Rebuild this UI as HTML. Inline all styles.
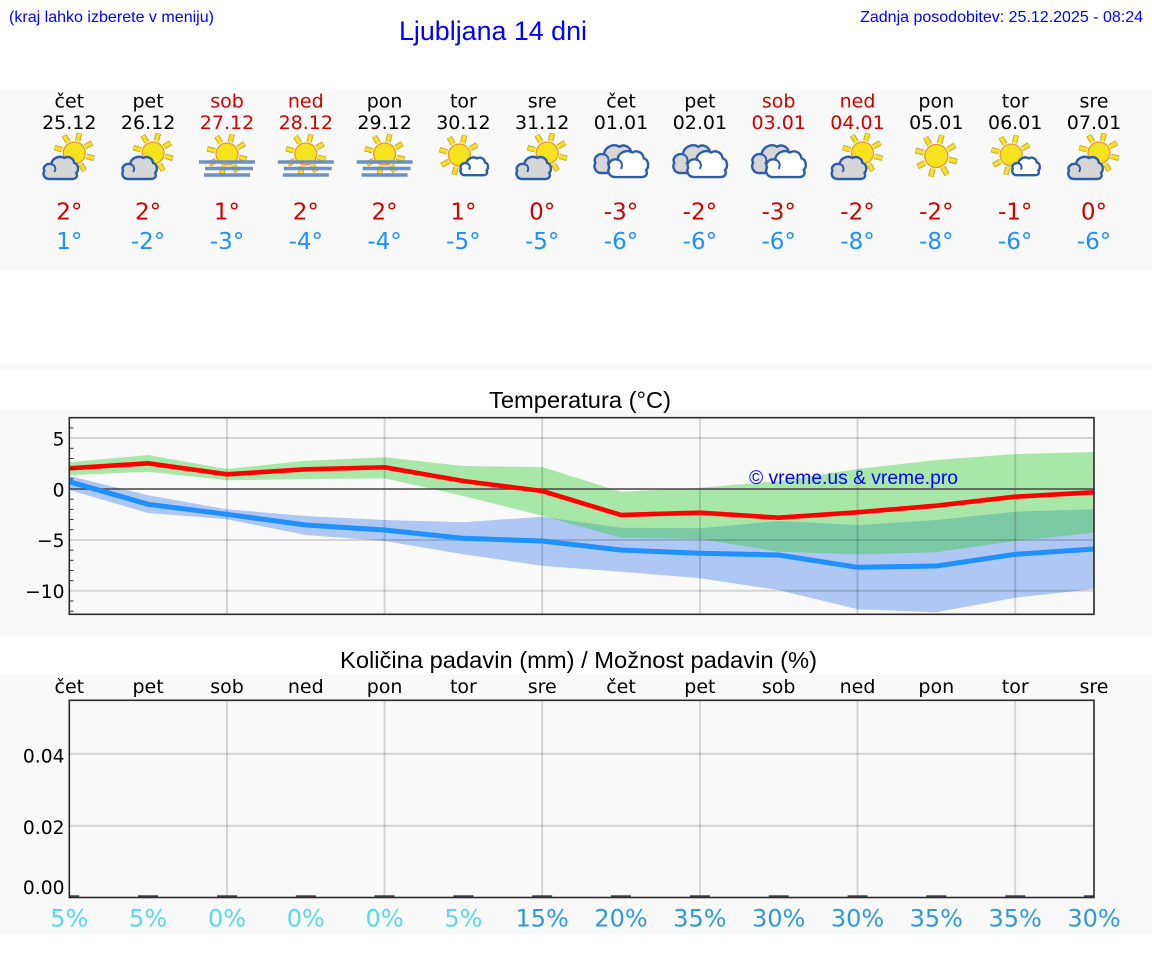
<!DOCTYPE html>
<html><head><meta charset="utf-8"><style>html,body{margin:0;padding:0;background:#fff;}svg{display:block}</style></head>
<body>
<svg xmlns="http://www.w3.org/2000/svg" width="1152" height="975" viewBox="0 0 1152 975">
<defs>
  <g id="sun">
    <g stroke="#c9a43a" stroke-width="5.5">
      <line x1="12.07" y1="3.24" x2="19.8" y2="5.3"/><line x1="6.25" y1="10.83" x2="10.25" y2="17.75"/>
      <line x1="-3.24" y1="12.07" x2="-5.3" y2="19.8"/><line x1="-10.83" y1="6.25" x2="-17.75" y2="10.25"/>
      <line x1="-12.07" y1="-3.24" x2="-19.8" y2="-5.3"/><line x1="-6.25" y1="-10.83" x2="-10.25" y2="-17.75"/>
      <line x1="3.24" y1="-12.07" x2="5.3" y2="-19.8"/><line x1="10.83" y1="-6.25" x2="17.75" y2="-10.25"/>
    </g>
    <g stroke="#f5e31f" stroke-width="3.6">
      <line x1="12.07" y1="3.24" x2="19.3" y2="5.17"/><line x1="6.25" y1="10.83" x2="10" y2="17.3"/>
      <line x1="-3.24" y1="12.07" x2="-5.17" y2="19.3"/><line x1="-10.83" y1="6.25" x2="-17.3" y2="10"/>
      <line x1="-12.07" y1="-3.24" x2="-19.3" y2="-5.17"/><line x1="-6.25" y1="-10.83" x2="-10" y2="-17.3"/>
      <line x1="3.24" y1="-12.07" x2="5.17" y2="-19.3"/><line x1="10.83" y1="-6.25" x2="17.3" y2="-10"/>
    </g>
    <circle cx="0" cy="0" r="11" fill="#f4e31e" stroke="#eb9a2a" stroke-width="1.3"/>
  </g>
  <g id="cg">
    <path d="M7,24 C2,24 0,19 2,16 C0,12 4,8 9,9 C10,3 17,0 22,3 C25,1 31,2 32,8 C36,9 37,15 34,18 C36,22 33,24 30,24 Z" fill="#d6d6d6" stroke="#2c5caa" stroke-width="2.4" vector-effect="non-scaling-stroke"/>
    <path d="M9,9 C13,10 14,14 12,17" fill="none" stroke="#2c5caa" stroke-width="2" vector-effect="non-scaling-stroke"/>
  </g>
  <g id="cw">
    <path d="M7,24 C2,24 0,19 2,16 C0,12 4,8 9,9 C10,3 17,0 22,3 C25,1 31,2 32,8 C36,9 37,15 34,18 C36,22 33,24 30,24 Z" fill="#ffffff" stroke="#2c5caa" stroke-width="2.4" vector-effect="non-scaling-stroke"/>
    <path d="M9,9 C13,10 14,14 12,17" fill="none" stroke="#2c5caa" stroke-width="2" vector-effect="non-scaling-stroke"/>
  </g>
  <g id="pc">
    <use href="#sun" transform="translate(5,153)"/>
    <use href="#cg" transform="translate(-27,155) scale(1.0,1.0)"/>
  </g>
  <g id="sw">
    <use href="#sun" transform="translate(-4,155)"/>
    <use href="#cw" transform="translate(-4,156) scale(0.8,0.8)"/>
  </g>
  <g id="cl">
    <use href="#cg" transform="translate(-28,143) scale(1.2,1.25)"/>
    <use href="#cw" transform="translate(-14,149) scale(1.15,1.17)"/>
  </g>
  <g id="fg">
    <use href="#sun" transform="translate(0,154)"/>
    <g stroke="#6d8fc6" stroke-width="3.5">
      <line x1="-28" y1="162" x2="28" y2="162"/>
      <line x1="-22" y1="168.5" x2="26" y2="168.5"/>
      <line x1="-23" y1="175" x2="23" y2="175"/>
    </g>
  </g>
  <g id="so">
    <use href="#sun" transform="translate(0,156) scale(1.05)"/>
  </g>
  <clipPath id="tclip"><rect x="69.3" y="417.7" width="1024.7" height="196.6"/></clipPath>
  <clipPath id="pclip"><rect x="69.3" y="700.3" width="1024.7" height="197.2"/></clipPath>
</defs>

<!-- header text -->
<g font-family="'Liberation Sans', Arial, sans-serif" fill="#0000ff">
  <text x="9" y="22" font-size="16" textLength="205" lengthAdjust="spacingAndGlyphs">(kraj lahko izberete v meniju)</text>
  <text x="1143" y="22" font-size="16" text-anchor="end">Zadnja posodobitev: 25.12.2025 - 08:24</text>
  <text x="399" y="40" font-size="26.7" textLength="188" lengthAdjust="spacingAndGlyphs">Ljubljana 14 dni</text>
</g>

<!-- panels -->
<rect x="0" y="90" width="1152" height="180" fill="#f9f9f9"/>
<rect x="0" y="365" width="1152" height="5" fill="#f9f9f9"/>
<rect x="0" y="410" width="1152" height="225" fill="#f9f9f9"/>
<rect x="0" y="675" width="1152" height="259" fill="#f9f9f9"/>

<!-- header days -->
<g font-family="'DejaVu Sans', sans-serif" font-size="19" text-anchor="middle" fill="#000">
  <text x="69.3" y="107.3">čet</text><text x="148.1" y="107.3">pet</text><text x="227" y="107.3" fill="#cc0000">sob</text><text x="305.8" y="107.3" fill="#cc0000">ned</text><text x="384.6" y="107.3">pon</text><text x="463.4" y="107.3">tor</text><text x="542.2" y="107.3">sre</text><text x="621" y="107.3">čet</text><text x="699.9" y="107.3">pet</text><text x="778.7" y="107.3" fill="#cc0000">sob</text><text x="857.5" y="107.3" fill="#cc0000">ned</text><text x="936.3" y="107.3">pon</text><text x="1015.2" y="107.3">tor</text><text x="1094" y="107.3">sre</text>
  <text x="69.3" y="129">25.12</text><text x="148.1" y="129">26.12</text><text x="227" y="129" fill="#cc0000">27.12</text><text x="305.8" y="129" fill="#cc0000">28.12</text><text x="384.6" y="129">29.12</text><text x="463.4" y="129">30.12</text><text x="542.2" y="129">31.12</text><text x="621" y="129">01.01</text><text x="699.9" y="129">02.01</text><text x="778.7" y="129" fill="#cc0000">03.01</text><text x="857.5" y="129" fill="#cc0000">04.01</text><text x="936.3" y="129">05.01</text><text x="1015.2" y="129">06.01</text><text x="1094" y="129">07.01</text>
</g>
<g font-family="'DejaVu Sans', sans-serif" font-size="23" text-anchor="middle" fill="#cc0000">
  <text x="69.3" y="219.3">2°</text><text x="148.1" y="219.3">2°</text><text x="227" y="219.3">1°</text><text x="305.8" y="219.3">2°</text><text x="384.6" y="219.3">2°</text><text x="463.4" y="219.3">1°</text><text x="542.2" y="219.3">0°</text><text x="621" y="219.3">-3°</text><text x="699.9" y="219.3">-2°</text><text x="778.7" y="219.3">-3°</text><text x="857.5" y="219.3">-2°</text><text x="936.3" y="219.3">-2°</text><text x="1015.2" y="219.3">-1°</text><text x="1094" y="219.3">0°</text>
</g>
<g font-family="'DejaVu Sans', sans-serif" font-size="23" text-anchor="middle" fill="#1e90ff">
  <text x="69.3" y="249">1°</text><text x="148.1" y="249">-2°</text><text x="227" y="249">-3°</text><text x="305.8" y="249">-4°</text><text x="384.6" y="249">-4°</text><text x="463.4" y="249">-5°</text><text x="542.2" y="249">-5°</text><text x="621" y="249">-6°</text><text x="699.9" y="249">-6°</text><text x="778.7" y="249">-6°</text><text x="857.5" y="249">-8°</text><text x="936.3" y="249">-8°</text><text x="1015.2" y="249">-6°</text><text x="1094" y="249">-6°</text>
</g>

<!-- icons -->
<use href="#pc" x="69.3"/>
<use href="#pc" x="148.1"/>
<use href="#fg" x="227"/>
<use href="#fg" x="305.8"/>
<use href="#fg" x="384.6"/>
<use href="#sw" x="463.4"/>
<use href="#pc" x="542.2"/>
<use href="#cl" x="621"/>
<use href="#cl" x="699.9"/>
<use href="#cl" x="778.7"/>
<use href="#pc" x="857.5"/>
<use href="#so" x="936.3"/>
<use href="#sw" x="1015.2"/>
<use href="#pc" x="1094"/>

<!-- Temperature chart -->
<text x="580" y="408" font-family="'Liberation Sans', Arial, sans-serif" font-size="23" text-anchor="middle" textLength="182" lengthAdjust="spacingAndGlyphs" fill="#000">Temperatura (°C)</text>
<g clip-path="url(#tclip)">
  <polygon fill="rgb(100,149,237)" fill-opacity="0.5" points="69.3,476 148.1,495.3 227,509.3 305.8,516 384.6,520 463.4,522.3 542.2,516.7 621,527.7 699.9,528.3 778.7,521 857.5,525 936.3,520 1015.2,511.7 1094,509.3 1094,589 1015.2,597.7 936.3,612.3 857.5,609.3 778.7,590 699.9,578.3 621,571.7 542.2,565.7 463.4,554.3 384.6,541 305.8,535 227,519.3 148.1,513 69.3,490"/>
  <polygon fill="rgb(50,205,50)" fill-opacity="0.4" points="69.3,462.3 148.1,455 227,469 305.8,460.7 384.6,457.3 463.4,466 542.2,467 621,491.7 699.9,487.7 778.7,481 857.5,469 936.3,460 1015.2,454 1094,452 1094,532.7 1015.2,541 936.3,552.3 857.5,554.3 778.7,551.7 699.9,539 621,537.7 542.2,515.7 463.4,496 384.6,478.3 305.8,479 227,480.3 148.1,471.7 69.3,475.3"/>
  <g stroke="#000" stroke-opacity="0.15" stroke-width="2">
    <line x1="69" y1="438" x2="1095" y2="438"/>
    <line x1="69" y1="540" x2="1095" y2="540"/>
    <line x1="69" y1="590.7" x2="1095" y2="590.7"/>
    <line x1="227" y1="417" x2="227" y2="615"/>
    <line x1="384.6" y1="417" x2="384.6" y2="615"/>
    <line x1="542.2" y1="417" x2="542.2" y2="615"/>
    <line x1="699.9" y1="417" x2="699.9" y2="615"/>
    <line x1="857.5" y1="417" x2="857.5" y2="615"/>
    <line x1="1015.2" y1="417" x2="1015.2" y2="615"/>
  </g>
  <line x1="69" y1="489" x2="1095" y2="489" stroke="#444" stroke-width="1.5"/>
  <polyline fill="none" stroke="#1e90ff" stroke-width="5" stroke-linejoin="round" points="69.3,481.7 148.1,504.3 227,514.3 305.8,525 384.6,530 463.4,538.3 542.2,541 621,550 699.9,553.3 778.7,555 857.5,567.3 936.3,566 1015.2,554.3 1094,549"/>
  <polyline fill="none" stroke="#ff0000" stroke-width="4.6" stroke-linejoin="round" points="69.3,468.3 148.1,463.3 227,474.3 305.8,469.3 384.6,467.3 463.4,481 542.2,491 621,515 699.9,512.7 778.7,517.7 857.5,512.3 936.3,505.7 1015.2,496.7 1094,492.3"/>
  <text x="749" y="484" font-family="'Liberation Sans', Arial, sans-serif" font-size="19" fill="#0000ff" textLength="209" lengthAdjust="spacingAndGlyphs">© vreme.us &amp; vreme.pro</text>
</g>
<g stroke="#333" stroke-width="1">
  <line x1="69.3" y1="427.9" x2="73.5" y2="427.9"/><line x1="69.3" y1="448.3" x2="73.5" y2="448.3"/><line x1="69.3" y1="458.5" x2="73.5" y2="458.5"/><line x1="69.3" y1="468.6" x2="73.5" y2="468.6"/><line x1="69.3" y1="478.8" x2="73.5" y2="478.8"/>
  <line x1="69.3" y1="499.2" x2="73.5" y2="499.2"/><line x1="69.3" y1="509.4" x2="73.5" y2="509.4"/><line x1="69.3" y1="519.5" x2="73.5" y2="519.5"/><line x1="69.3" y1="529.7" x2="73.5" y2="529.7"/>
  <line x1="69.3" y1="550.2" x2="73.5" y2="550.2"/><line x1="69.3" y1="560.3" x2="73.5" y2="560.3"/><line x1="69.3" y1="570.5" x2="73.5" y2="570.5"/><line x1="69.3" y1="580.7" x2="73.5" y2="580.7"/>
  <line x1="69.3" y1="601" x2="73.5" y2="601"/><line x1="69.3" y1="611.2" x2="73.5" y2="611.2"/>
</g>
<rect x="69.3" y="417.7" width="1024.7" height="196.6" fill="none" stroke="#2b2b2b" stroke-width="1.6"/>
<g font-family="'DejaVu Sans', sans-serif" font-size="18.7" text-anchor="end" fill="#000">
  <text x="64.5" y="445.3">5</text>
  <text x="64.5" y="496.3">0</text>
  <text x="64.5" y="547.2">−5</text>
  <text x="64.5" y="597.8">−10</text>
</g>

<!-- Precipitation chart -->
<text x="578.5" y="668" font-family="'Liberation Sans', Arial, sans-serif" font-size="23.5" text-anchor="middle" textLength="477" lengthAdjust="spacingAndGlyphs" fill="#000">Količina padavin (mm) / Možnost padavin (%)</text>
<g font-family="'DejaVu Sans', sans-serif" font-size="19" text-anchor="middle" fill="#000">
  <text x="69.3" y="693">čet</text><text x="148.1" y="693">pet</text><text x="227" y="693">sob</text><text x="305.8" y="693">ned</text><text x="384.6" y="693">pon</text><text x="463.4" y="693">tor</text><text x="542.2" y="693">sre</text><text x="621" y="693">čet</text><text x="699.9" y="693">pet</text><text x="778.7" y="693">sob</text><text x="857.5" y="693">ned</text><text x="936.3" y="693">pon</text><text x="1015.2" y="693">tor</text><text x="1094" y="693">sre</text>
</g>
<g clip-path="url(#pclip)">
  <g stroke="#000" stroke-opacity="0.15" stroke-width="2">
    <line x1="69" y1="753.7" x2="1095" y2="753.7"/>
    <line x1="69" y1="825.7" x2="1095" y2="825.7"/>
    <line x1="227" y1="700" x2="227" y2="898"/>
    <line x1="384.6" y1="700" x2="384.6" y2="898"/>
    <line x1="542.2" y1="700" x2="542.2" y2="898"/>
    <line x1="699.9" y1="700" x2="699.9" y2="898"/>
    <line x1="857.5" y1="700" x2="857.5" y2="898"/>
    <line x1="1015.2" y1="700" x2="1015.2" y2="898"/>
  </g>
  <g stroke="#444" stroke-width="2.5">
    <line x1="59.3" y1="896.5" x2="79.3" y2="896.5"/><line x1="138.1" y1="896.5" x2="158.1" y2="896.5"/><line x1="217" y1="896.5" x2="237" y2="896.5"/><line x1="295.8" y1="896.5" x2="315.8" y2="896.5"/><line x1="374.6" y1="896.5" x2="394.6" y2="896.5"/><line x1="453.4" y1="896.5" x2="473.4" y2="896.5"/><line x1="532.2" y1="896.5" x2="552.2" y2="896.5"/><line x1="611" y1="896.5" x2="631" y2="896.5"/><line x1="689.9" y1="896.5" x2="709.9" y2="896.5"/><line x1="768.7" y1="896.5" x2="788.7" y2="896.5"/><line x1="847.5" y1="896.5" x2="867.5" y2="896.5"/><line x1="926.3" y1="896.5" x2="946.3" y2="896.5"/><line x1="1005.2" y1="896.5" x2="1025.2" y2="896.5"/><line x1="1084" y1="896.5" x2="1104" y2="896.5"/>
  </g>
</g>
<rect x="69.3" y="700.3" width="1024.7" height="197.2" fill="none" stroke="#2b2b2b" stroke-width="1.6"/>
<g font-family="'DejaVu Sans', sans-serif" font-size="18.7" text-anchor="end" fill="#000">
  <text x="64.5" y="762.3">0.04</text>
  <text x="64.5" y="834">0.02</text>
  <text x="64.5" y="894">0.00</text>
</g>
<g font-family="'DejaVu Sans', sans-serif" font-size="24" text-anchor="middle">
  <text x="69.3" y="926.5" fill="#5cd7ea">5%</text><text x="148.1" y="926.5" fill="#5cd7ea">5%</text><text x="227" y="926.5" fill="#5cd7ea">0%</text><text x="305.8" y="926.5" fill="#5cd7ea">0%</text><text x="384.6" y="926.5" fill="#5cd7ea">0%</text><text x="463.4" y="926.5" fill="#5cd7ea">5%</text><text x="542.2" y="926.5" fill="#3399d6">15%</text><text x="621" y="926.5" fill="#3399d6">20%</text><text x="699.9" y="926.5" fill="#3399d6">35%</text><text x="778.7" y="926.5" fill="#3399d6">30%</text><text x="857.5" y="926.5" fill="#3399d6">30%</text><text x="936.3" y="926.5" fill="#3399d6">35%</text><text x="1015.2" y="926.5" fill="#3399d6">35%</text><text x="1094" y="926.5" fill="#3399d6">30%</text>
</g>
</svg>
</body></html>
